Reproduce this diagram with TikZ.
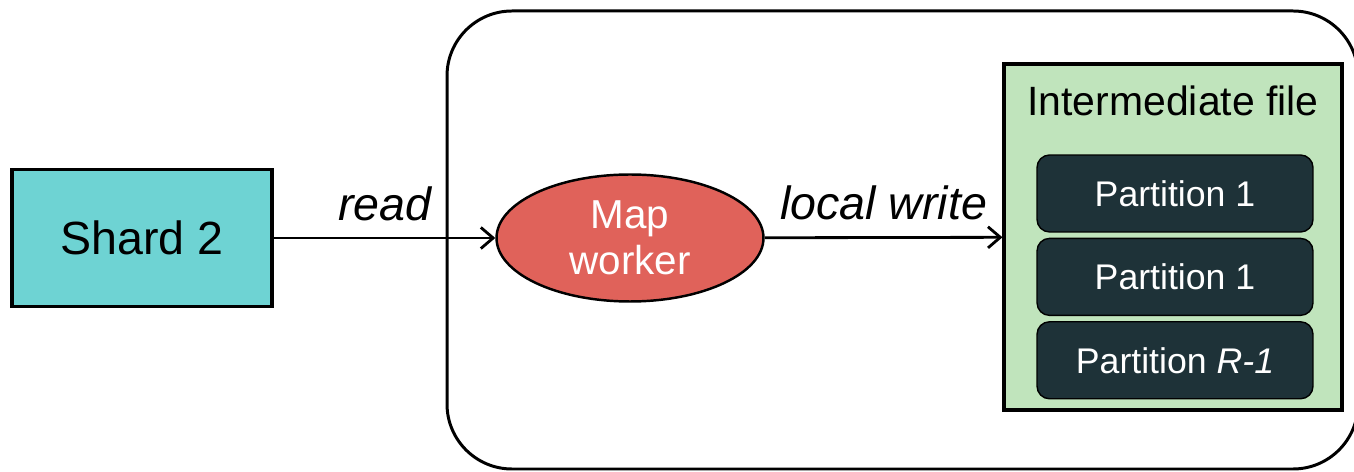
\documentclass[tikz,border=0pt]{standalone}
\usepackage{fontspec}
\setmainfont{Liberation Sans}
\usepackage{xcolor}
\usetikzlibrary{shapes.geometric, arrows.meta, positioning, fit, calc}

\definecolor{shardcyan}{HTML}{6ED3D3}
\definecolor{mapred}{HTML}{E0625A}
\definecolor{filegreen}{HTML}{C0E4BC}
\definecolor{partdark}{HTML}{1E3238}

\tikzset{
    shardbox/.style={draw, line width=2.2pt, fill=shardcyan, minimum width=5.2cm, minimum height=2.74cm, font=\fontsize{26.5}{30}\selectfont},
    workerellipse/.style={draw, ellipse, line width=1.4pt, fill=mapred, text=white, minimum width=5.34cm, minimum height=2.54cm, align=center, inner sep=0pt, font=\fontsize{23}{26}\selectfont},
    filebox/.style={draw, line width=1.8pt, fill=filegreen, minimum width=6.76cm, minimum height=6.92cm},
    partbox/.style={draw, line width=0.8pt, rounded corners=0.25cm, fill=partdark, text=white, minimum width=5.52cm, minimum height=1.54cm, font=\fontsize{20.3}{24}\selectfont},
    flowlabel/.style={font=\fontsize{26.5}{30}\selectfont\itshape},
    flow/.style={-{Straight Barb[length=7pt, width=12pt]}, line width=1.6pt}
}

\begin{document}
\begin{tikzpicture}[x=0.02cm, y=-0.02cm, node distance=0.1cm]
    \useasboundingbox (0,0) rectangle (1354,472);

    % Worker machine
    \draw[line width=1.7pt, rounded corners=1.3cm] (447,11) rectangle (1358,469);

    % Nodes
    \node[shardbox] (shard) at (142,238) {Shard 2};
    \node[workerellipse] (mapper) at (630,238) {Map\\worker};
    \node[filebox] (file) at (1173,237) {};
    \node[font=\fontsize{23.3}{27}\selectfont] (filetitle) at (1173,101) {Intermediate file};
    \node[partbox] (part1) at (1175,193.5) {Partition 1};
    \node[partbox, below=of part1] (part2) {Partition 1};
    \node[partbox, below=of part2] (part3) {Partition \textit{R-1}};

    % Arrows
    \draw[flow] (shard) -- node[flowlabel, above=0.2cm] {read} (mapper);
    \draw[flow] (mapper) -- node[flowlabel, above=0.2cm] {local write} (file);
\end{tikzpicture}
\end{document}
